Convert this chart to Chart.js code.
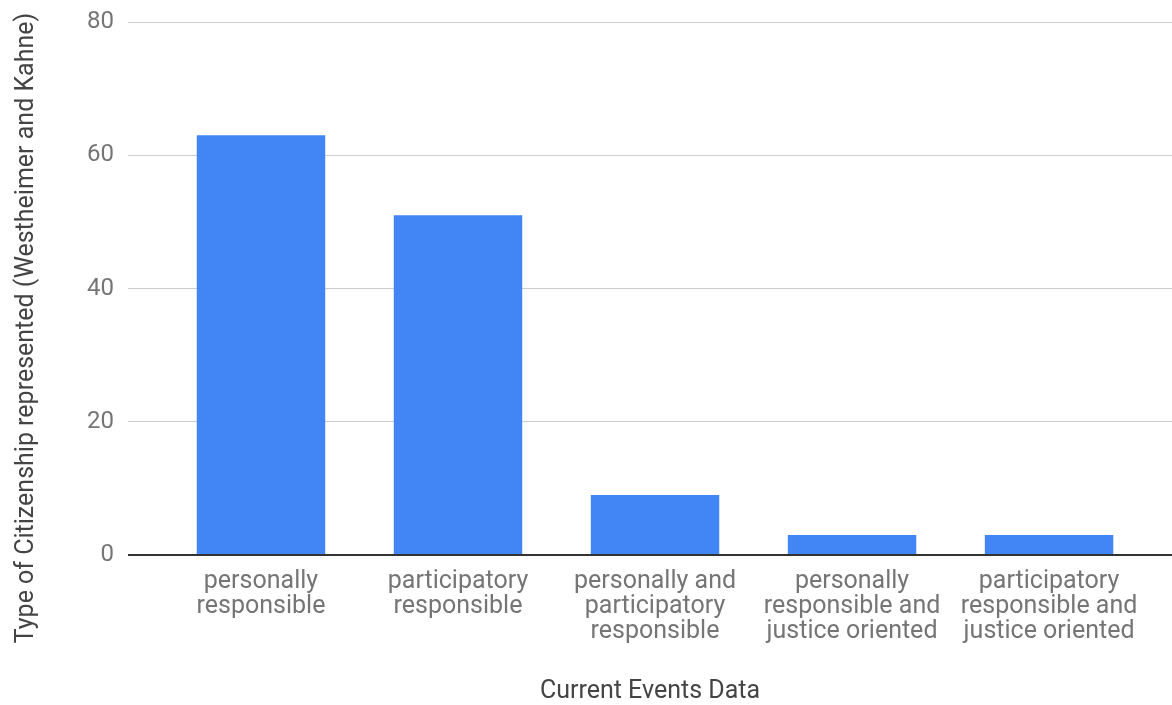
<!DOCTYPE html>
<html>
<head>
<meta charset="utf-8">
<script src="https://cdn.jsdelivr.net/npm/chart.js@4.4.0/dist/chart.umd.min.js"></script>
<style>
  html, body { margin: 0; padding: 0; background: #fff; }
  #wrap { width: 1172px; height: 705px; }
</style>
</head>
<body>
<div id="wrap"><canvas id="myChart" width="1172" height="705"></canvas></div>
<script>
// categories and values
const categories = [
  ['personally', 'responsible'],
  ['participatory', 'responsible'],
  ['personally and', 'participatory', 'responsible'],
  ['personally', 'responsible and', 'justice oriented'],
  ['participatory', 'responsible and', 'justice oriented'],
];
const counts = [63, 51, 9, 3, 3];
const yTicks = [0, 20, 40, 60, 80];
const xTitle = 'Current Events Data';
const yTitle = 'Type of Citizenship represented (Westheimer and Kahne)';

const FONT = 'Roboto, "Noto Sans", sans-serif';

// y title is longer than the plot is tall, so it is placed by hand like the original
const yTitlePlugin = {
  id: 'yTitle',
  afterDraw(chart) {
    const ctx = chart.ctx;
    ctx.save();
    ctx.translate(27, 328);
    ctx.rotate(-Math.PI / 2);
    ctx.font = '25px ' + FONT;
    ctx.fillStyle = '#444';
    ctx.textAlign = 'center';
    ctx.textBaseline = 'middle';
    ctx.fillText(yTitle, 0, 0);
    ctx.restore();
  },
};

const ctx = document.getElementById('myChart').getContext('2d');
const myChart = new Chart(ctx, {
  type: 'bar',
  data: {
    datasets: [{
      data: counts.map((v, i) => ({ x: i, y: v })),
      backgroundColor: '#4285f4',
      barPercentage: 0.652,
      categoryPercentage: 1,
    }],
  },
  options: {
    responsive: false,
    animation: false,
    layout: { padding: { top: 22, right: 0, left: 0, bottom: 0 } },
    plugins: { legend: { display: false }, tooltip: { enabled: false } },
    scales: {
      x: {
        type: 'linear',
        offset: false,
        min: -0.675,
        max: 4.624,
        grid: { display: false, drawTicks: false },
        border: { display: false },
        afterBuildTicks: (scale) => {
          scale.ticks = categories.map((c, i) => ({ value: i }));
        },
        afterFit: (scale) => { scale.height = 150; },
        ticks: {
          autoSkip: false,
          maxRotation: 0,
          padding: 14,
          color: '#757575',
          font: { family: FONT, size: 25, lineHeight: 1.0 },
          callback: (v) => categories[v],
        },
        title: {
          display: true,
          text: xTitle,
          color: '#444',
          font: { family: FONT, size: 25, lineHeight: 1.1 },
          padding: { top: 0, bottom: 0 },
        },
      },
      y: {
        min: 0,
        max: 80,
        afterBuildTicks: (scale) => {
          scale.ticks = yTicks.map((v) => ({ value: v }));
        },
        afterFit: (scale) => {
          scale.width = 128;
          scale.paddingTop = 0;
        },
        grid: {
          drawTicks: false,
          color: (c) => (c.tick && c.tick.value === 0 ? '#333' : '#ccc'),
          lineWidth: (c) => (c.tick && c.tick.value === 0 ? 2 : 1),
        },
        border: { display: false },
        ticks: {
          padding: 14,
          color: '#757575',
          font: { family: FONT, size: 24 },
        },
      },
    },
  },
  plugins: [yTitlePlugin],
});
</script>
</body>
</html>
